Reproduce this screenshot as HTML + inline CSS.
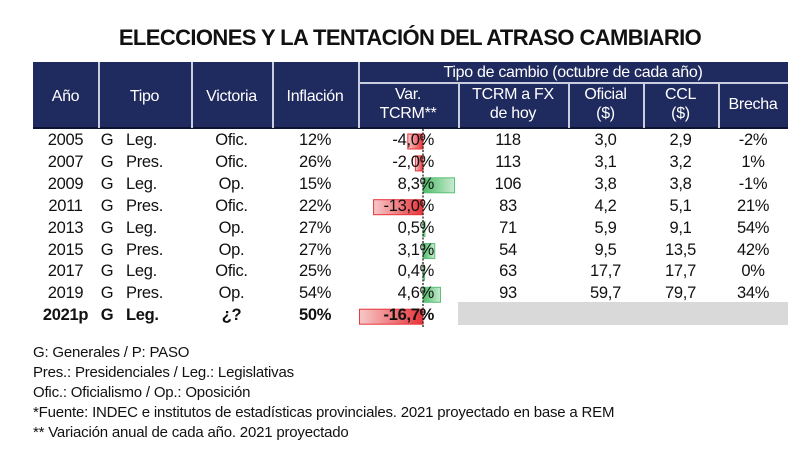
<!DOCTYPE html>
<html><head><meta charset="utf-8">
<style>
html,body{margin:0;padding:0;background:#fff;}
body{width:800px;height:462px;position:relative;overflow:hidden;font-family:"Liberation Sans",sans-serif;color:#111;}
.abs{position:absolute;}
.t{position:absolute;font-size:16.5px;line-height:19px;white-space:nowrap;letter-spacing:-0.3px;}
.h{position:absolute;color:#fff;font-size:16px;line-height:19px;text-align:center;white-space:nowrap;letter-spacing:-0.3px;}
.fn{position:absolute;left:33px;font-size:15px;white-space:nowrap;letter-spacing:-0.2px;}
</style></head>
<body>
<div class="abs" style="left:0;width:820px;top:25px;text-align:center;font-size:22px;font-weight:bold;letter-spacing:-0.6px;color:#111;">ELECCIONES Y LA TENTACIÓN DEL ATRASO CAMBIARIO</div>

<div class="abs" style="left:33px;top:62px;width:755px;height:66px;background:#1f2a5e;"></div>
<div class="abs" style="left:33px;top:127px;width:755px;height:2px;background:#0d1333;"></div>
<div class="abs" style="left:358px;top:82px;width:430px;height:2px;background:#c9cde0;"></div>
<div id="dividers"></div>
<div class="h" style="left:358px;width:430px;top:63px;">Tipo de cambio (octubre de cada año)</div>
<div class="h" style="left:33px;width:65px;top:87px;">Año</div>
<div class="h" style="left:98px;width:93px;top:87px;">Tipo</div>
<div class="h" style="left:191px;width:81px;top:87px;">Victoria</div>
<div class="h" style="left:272px;width:86px;top:87px;">Inflación</div>
<div class="h" style="left:358px;width:100px;top:85px;">Var.<br>TCRM**</div>
<div class="h" style="left:458px;width:110px;top:85px;">TCRM a FX<br>de hoy</div>
<div class="h" style="left:568px;width:75px;top:85px;">Oficial<br>($)</div>
<div class="h" style="left:643px;width:75px;top:85px;">CCL<br>($)</div>
<div class="h" style="left:718px;width:70px;top:95px;">Brecha</div>

<div class="abs" style="left:458px;top:302px;width:330px;height:23px;background:#d9d9d9;"></div>
<svg class="abs" style="left:0;top:0;" width="800" height="462" id="bars">
<defs>
<linearGradient id="gr" x1="0" x2="1"><stop offset="0" stop-color="#f6c9c9"/><stop offset="1" stop-color="#e8333a"/></linearGradient>
<linearGradient id="gg" x1="0" x2="1"><stop offset="0" stop-color="#4dbb68"/><stop offset="1" stop-color="#c9ebd1"/></linearGradient>
</defs>
</svg>
<div id="rows"></div>

<div class="fn" style="top:344px;">G: Generales / P: PASO</div>
<div class="fn" style="top:364px;">Pres.: Presidenciales / Leg.: Legislativas</div>
<div class="fn" style="top:384px;">Ofic.: Oficialismo / Op.: Oposición</div>
<div class="fn" style="top:404px;">*Fuente: INDEC e institutos de estadísticas provinciales. 2021 proyectado en base a REM</div>
<div class="fn" style="top:424px;">** Variación anual de cada año. 2021 proyectado</div>

<script>
const years=["2005","2007","2009","2011","2013","2015","2017","2019","2021p"];
const elec=["Leg.","Pres.","Leg.","Pres.","Leg.","Pres.","Leg.","Pres.","Leg."];
const victoria=["Ofic.","Ofic.","Op.","Ofic.","Op.","Op.","Ofic.","Op.","¿?"];
const inflacion=["12%","26%","15%","22%","27%","27%","25%","54%","50%"];
const varTcrm=[-4.0,-2.0,8.3,-13.0,0.5,3.1,0.4,4.6,-16.7];
const tcrmFx=["118","113","106","83","71","54","63","93",""];
const oficial=["3,0","3,1","3,8","4,2","5,9","9,5","17,7","59,7",""];
const ccl=["2,9","3,2","3,8","5,1","9,1","13,5","17,7","79,7",""];
const brecha=["-2%","1%","-1%","21%","54%","42%","0%","34%",""];

const zeroX=423, pxPer=3.8, row0=131, rowH=21.9;
const xScale=v=>zeroX+v*pxPer;
const svg=document.getElementById('bars');
const NS="http://www.w3.org/2000/svg";
varTcrm.forEach((v,i)=>{
  const r=document.createElementNS(NS,'rect');
  
  
  const x0=Math.min(xScale(0),xScale(v)),w=Math.abs(xScale(v)-xScale(0));
  r.setAttribute('x',x0);r.setAttribute('y',row0+i*rowH+3);
  r.setAttribute('width',w);r.setAttribute('height',15);
  r.setAttribute('fill',v<0?'url(#gr)':'url(#gg)');
  r.setAttribute('stroke',v<0?'#e8333a':'#5cc076');r.setAttribute('stroke-width','1');
  svg.appendChild(r);
});
const ax=document.createElementNS(NS,'line');


ax.setAttribute('x1',zeroX);ax.setAttribute('x2',zeroX);ax.setAttribute('y1',129);ax.setAttribute('y2',327);
ax.setAttribute('stroke','#222');ax.setAttribute('stroke-width','1.3');ax.setAttribute('stroke-dasharray','2,1.5');
svg.appendChild(ax);

const divs=document.getElementById('dividers');
[98,191,272,358].forEach(x=>{
  const d=document.createElement('div');d.className='abs';
  
  
  d.style.cssText=`left:${x}px;top:62px;width:2px;height:66px;background:#c9cde0;`;divs.appendChild(d);
});
[458,568,643,718].forEach(x=>{
  const d=document.createElement('div');d.className='abs';
  
  
  d.style.cssText=`left:${x}px;top:83px;width:2px;height:45px;background:#c9cde0;`;divs.appendChild(d);
});

const rows=document.getElementById('rows');
function cell(txt,left,width,align,top,bold,name){
  const d=document.createElement('div');d.className='t';
  
  
  d.textContent=txt;
  d.style.left=left+'px';d.style.width=width+'px';d.style.textAlign=align;d.style.top=top+'px';
  if(bold)d.style.fontWeight='bold';
  rows.appendChild(d);
}
years.forEach((y,i)=>{
  const top=row0+i*rowH, b=i===years.length-1;
  cell(y,33,65,'center',top,b,'year-cell');
  cell('G',100,14,'center',top,b,'g-cell');
  cell(elec[i],126,62,'left',top,b,'tipo-cell');
  cell(victoria[i],191,81,'center',top,b,'victoria-cell');
  cell(inflacion[i],272,86,'center',top,b,'inflacion-cell');
  const vs=varTcrm[i].toFixed(1).replace('.',',')+'%';
  cell(vs,336,98,'right',top,b,'var-tcrm-value');
  cell(tcrmFx[i],458,100,'center',top,false,'tcrm-fx-cell');
  cell(oficial[i],568,75,'center',top,false,'oficial-cell');
  cell(ccl[i],643,75,'center',top,false,'ccl-cell');
  cell(brecha[i],718,70,'center',top,false,'brecha-cell');
});
</script>
</body></html>
